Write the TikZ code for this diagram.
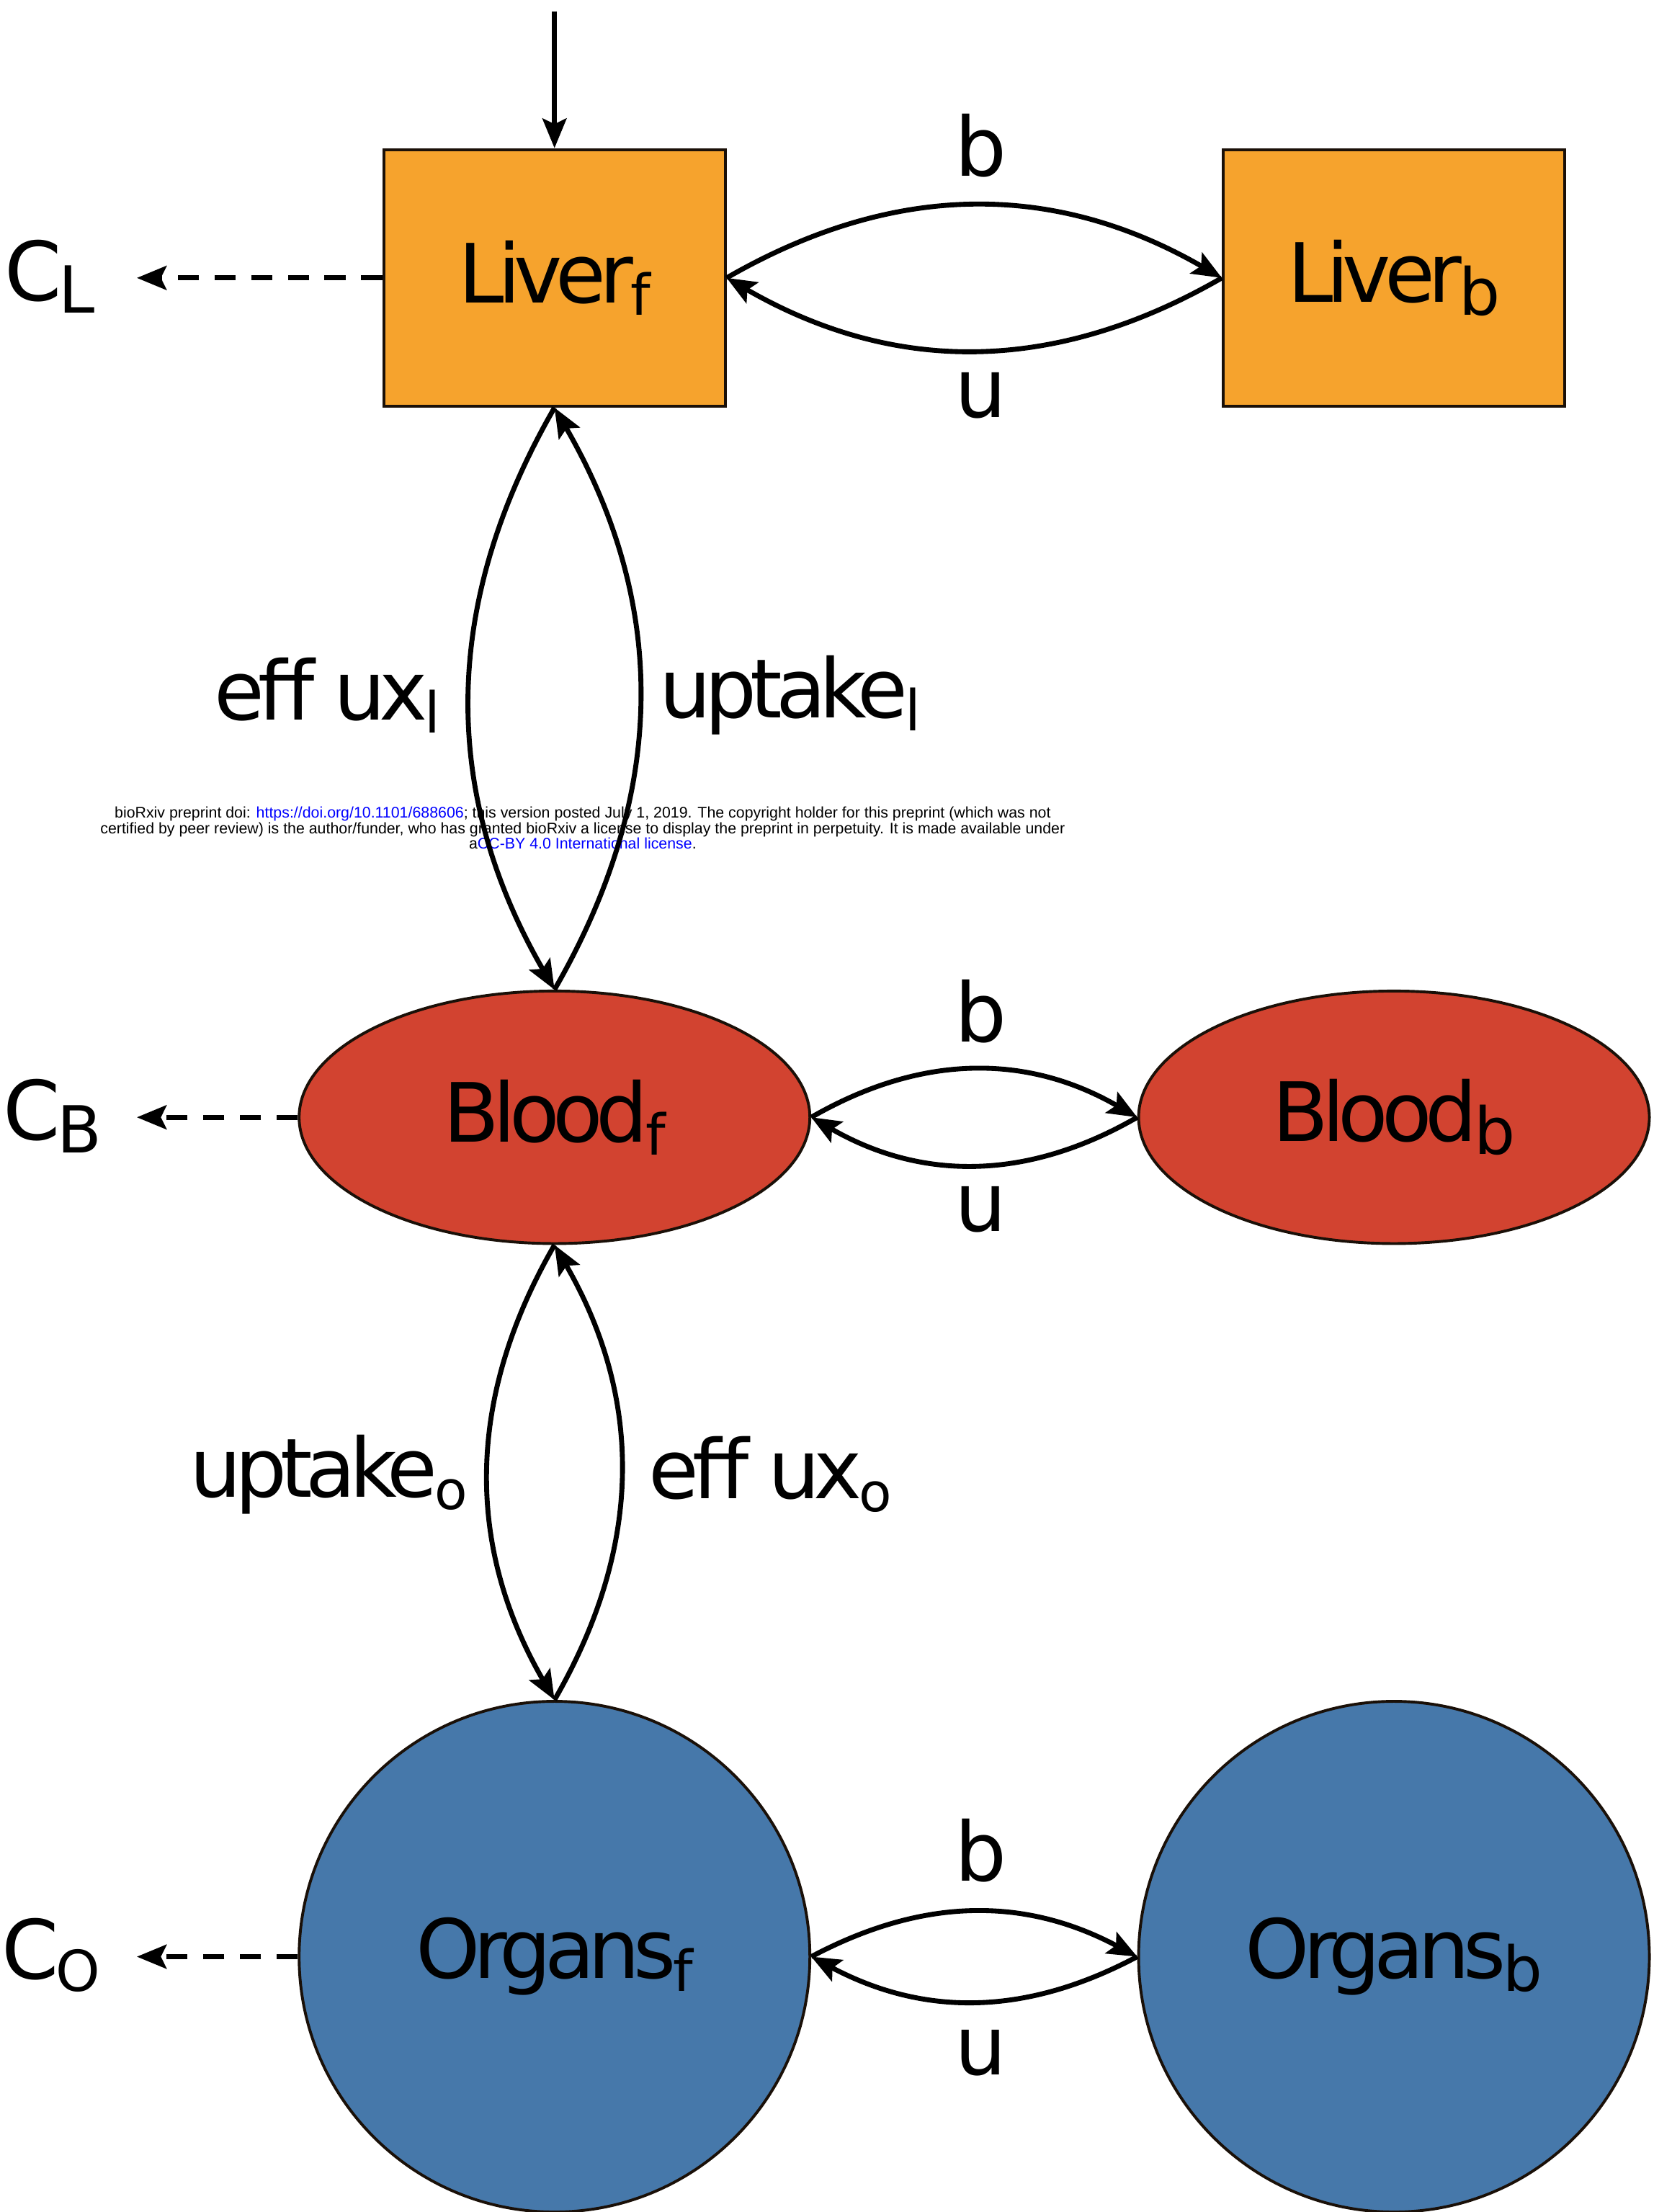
\documentclass[tikz,border=0pt]{standalone}
\usepackage{fontspec}
\setmainfont{Liberation Sans}
\newfontfamily\dv[LetterSpace=-8]{DejaVu Sans}
\usetikzlibrary{shapes.geometric,arrows.meta}
\definecolor{liverc}{HTML}{F6A32D}
\definecolor{bloodc}{HTML}{D24330}
\definecolor{organc}{HTML}{4678AA}
\definecolor{linkc}{HTML}{0000FF}
\definecolor{edgec}{HTML}{1A1008}
\newcommand\sbs[2][46]{{\fontsize{#1}{#1}\selectfont\kern-2pt\raisebox{-9pt}{#2}}}
\tikzset{
  big/.style={font=\dv\fontsize{58}{58}\selectfont, inner sep=0pt},
  comp/.style={big, draw=edgec, line width=2pt},
  liverbox/.style={comp, rectangle, fill=liverc, minimum width=242pt, minimum height=182pt},
  bloodbox/.style={comp, ellipse, fill=bloodc, minimum width=362pt, minimum height=179pt},
  organbox/.style={comp, circle, fill=organc, minimum size=362pt},
  flow/.style={line width=3.5pt, -{Stealth[length=21pt,width=17pt,inset=4pt]}},
  outflow/.style={line width=3.5pt, dash pattern=on 15pt off 11pt, -{Stealth[length=21pt,width=17pt,inset=4pt]}},
  lbl/.style={big}
}
\begin{document}
\begin{tikzpicture}[x=1pt,y=1pt]
\useasboundingbox (0,0) rectangle (1172,-1568);
\fill[white] (0,0) rectangle (1172,-1568);

% compartments
\node[liverbox] (Lf) at (393,-197) {Liver\sbs[40]{f}};
\node[liverbox] (Lb) at (988,-197) {Liver\sbs{b}};
\node[bloodbox] (Bf) at (393,-792) {Blood\sbs[40]{f}};
\node[bloodbox] (Bb) at (988,-792) {Blood\sbs{b}};
\node[organbox] (Of) at (393,-1387) {Organs\sbs[40]{f}};
\node[organbox] (Ob) at (988,-1387) {Organs\sbs[44]{b}};

% clearance labels
\node[big, anchor=west] (CL) at (3,-196) {C\sbs{L}};
\node[big, anchor=west] (CB) at (2,-791) {C\sbs{B}};
\node[big, anchor=west] (CO) at (1,-1386) {C\sbs[40]{O}};

% rate labels
\node[lbl] (bL) at (695,-103) {b};
\node[lbl] (uL) at (695,-280) {u};
\node[lbl] (bB) at (695,-717) {b};
\node[lbl] (uB) at (695,-857) {u};
\node[lbl] (bO) at (695,-1312) {b};
\node[lbl] (uO) at (695,-1455) {u};
\node[lbl] (effl) at (232,-493) {eff ux\sbs[40]{l}};
\node[lbl] (upl) at (560,-493) {uptake\sbs[40]{l}};
\node[lbl] (upo) at (233,-1045) {uptake\sbs[38]{o}};
\node[lbl] (effo) at (546,-1045) {eff ux\sbs[38]{o}};

% preprint notice
\node[align=center, font=\fontsize{10.9}{11}\selectfont, inner sep=0pt] (note) at (413,-587)
 {bioRxiv preprint doi: \textcolor{linkc}{https://doi.org/10.1101/688606}; this version posted July 1, 2019. The copyright holder for this preprint (which was not\\
 certified by peer review) is the author/funder, who has granted bioRxiv a license to display the preprint in perpetuity. It is made available under\\
 a\textcolor{linkc}{CC-BY 4.0 International license}.};

% input
\coordinate (in) at (393,-8);
\draw[flow] (in) -- (Lf.north);

% clearance arrows
\coordinate (CLe) at (97,-197);
\coordinate (CBe) at (97,-792);
\coordinate (COe) at (97,-1387);
\draw[outflow] (Lf.west) -- (CLe);
\draw[outflow] (Bf.west) -- (CBe);
\draw[outflow] (Of.west) -- (COe);

% binding / unbinding
\draw[flow] (Lf.east) to[bend left=30] (Lb.west);
\draw[flow] (Lb.west) to[bend left=30] (Lf.east);
\draw[flow] (Bf.east) to[bend left=30] (Bb.west);
\draw[flow] (Bb.west) to[bend left=30] (Bf.east);
\draw[flow] (Of.east) to[bend left=28] (Ob.west);
\draw[flow] (Ob.west) to[bend left=28] (Of.east);

% transport
\draw[flow] (Lf.south) to[bend right=30] (Bf.north);
\draw[flow] (Bf.north) to[bend right=30] (Lf.south);
\draw[flow] (Bf.south) to[bend right=30] (Of.north);
\draw[flow] (Of.north) to[bend right=30] (Bf.south);
\end{tikzpicture}
\end{document}
